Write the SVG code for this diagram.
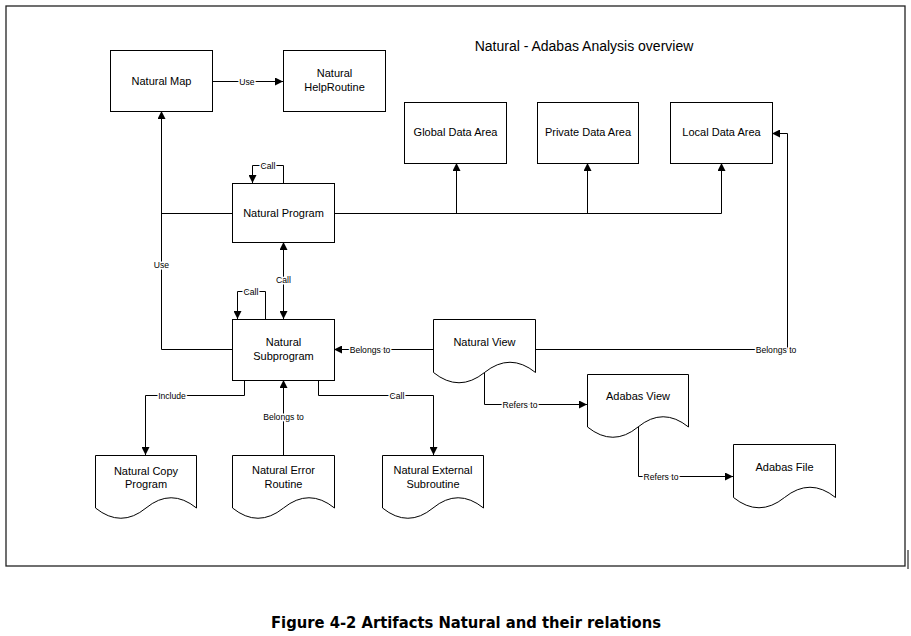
<svg xmlns="http://www.w3.org/2000/svg" width="911" height="636" viewBox="0 0 911 636">
<style>
.box{fill:#fff;stroke:#000;stroke-width:1}
.doc{fill:#fff;stroke:#000;stroke-width:1}
.t{font-family:"Liberation Sans",Arial,sans-serif;font-size:11px;fill:#000;text-anchor:middle}
.c{fill:none;stroke:#000;stroke-width:1}
.lbl{font-family:"Liberation Sans",Arial,sans-serif;font-size:8.6px;fill:#000;text-anchor:middle;stroke:#fff;stroke-width:3px;paint-order:stroke;stroke-linejoin:round}
</style>
<defs>
<marker id="ah" viewBox="0 0 8 8" refX="8" refY="4" markerWidth="8" markerHeight="8" markerUnits="userSpaceOnUse" orient="auto-start-reverse">
<path d="M0,0 L8,4 L0,8 z" fill="#000"/>
</marker>
</defs>
<rect width="911" height="636" fill="#fff"/>
<rect x="6" y="6" width="899" height="560" fill="#fff" stroke="#222" stroke-width="1.3"/>
<line x1="908" y1="550" x2="908" y2="569" stroke="#000" stroke-width="1"/>
<text x="584" y="51" style="font-family:'Liberation Sans',Arial,sans-serif;font-size:14px;text-anchor:middle">Natural - Adabas Analysis overview</text>

<g id="connectors">
<path class="c" d="M212.5,81.5 H283" marker-end="url(#ah)"/>
<path class="c" d="M283.5,183 V165.5 H252.5 V183" marker-end="url(#ah)"/>
<path class="c" d="M232,213.5 H161.5"/>
<path class="c" d="M232,349.5 H161.5 V111" marker-end="url(#ah)"/>
<path class="c" d="M334,213.5 H721.5 V163" marker-end="url(#ah)"/>
<path class="c" d="M456.5,213.5 V163" marker-end="url(#ah)"/>
<path class="c" d="M587.5,213.5 V163" marker-end="url(#ah)"/>
<path class="c" d="M283.5,242 V319" marker-start="url(#ah)" marker-end="url(#ah)"/>
<path class="c" d="M265.5,319 V291.5 H237.5 V319" marker-end="url(#ah)"/>
<path class="c" d="M433,349.5 H334" marker-end="url(#ah)"/>
<path class="c" d="M535,349.5 H787.5 V133.5 H772" marker-end="url(#ah)"/>
<path class="c" d="M244.5,380 V395.5 H145.5 V455" marker-end="url(#ah)"/>
<path class="c" d="M283.5,455 V380" marker-end="url(#ah)"/>
<path class="c" d="M318.5,380 V395.5 H433.5 V455" marker-end="url(#ah)"/>
<path class="c" d="M484.5,372 V404.5 H587" marker-end="url(#ah)"/>
<path class="c" d="M638.5,427 V476.5 H733" marker-end="url(#ah)"/>
<text class="lbl" x="247" y="84.5">Use</text>
<text class="lbl" x="268" y="168.5">Call</text>
<text class="lbl" x="161.5" y="268">Use</text>
<text class="lbl" x="283.5" y="283">Call</text>
<text class="lbl" x="251" y="294.5">Call</text>
<text class="lbl" x="370" y="352.5">Belongs to</text>
<text class="lbl" x="776" y="352.5">Belongs to</text>
<text class="lbl" x="172" y="398.5">Include</text>
<text class="lbl" x="283.5" y="420">Belongs to</text>
<text class="lbl" x="397" y="398.5">Call</text>
<text class="lbl" x="520" y="407.5">Refers to</text>
<text class="lbl" x="661" y="479.5">Refers to</text>
</g>

<g id="natural-map">
<rect class="box" x="110.5" y="50.5" width="102" height="61"/>
<text class="t" x="161.5" y="85">Natural Map</text>
</g>
<g id="natural-helproutine">
<rect class="box" x="283.5" y="50.5" width="102" height="61"/>
<text class="t" x="334.5" y="77">Natural</text>
<text class="t" x="334.5" y="91">HelpRoutine</text>
</g>
<g id="global-data-area">
<rect class="box" x="404.5" y="102.5" width="102" height="61"/>
<text class="t" x="455.5" y="136">Global Data Area</text>
</g>
<g id="private-data-area">
<rect class="box" x="537.5" y="102.5" width="101" height="61"/>
<text class="t" x="588" y="136">Private Data Area</text>
</g>
<g id="local-data-area">
<rect class="box" x="670.5" y="102.5" width="102" height="61"/>
<text class="t" x="721.5" y="136">Local Data Area</text>
</g>
<g id="natural-program">
<rect class="box" x="232.5" y="183.5" width="102" height="59"/>
<text class="t" x="283.5" y="217">Natural Program</text>
</g>
<g id="natural-subprogram">
<rect class="box" x="232.5" y="319.5" width="102" height="61"/>
<text class="t" x="283.5" y="346">Natural</text>
<text class="t" x="283.5" y="360">Subprogram</text>
</g>
<g id="natural-view">
<path class="doc" d="M433.5,319.5 H535.5 V372.5 Q510,352 484.5,372.5 T433.5,372.5 Z"/>
<text class="t" x="484.5" y="346">Natural View</text>
</g>
<g id="adabas-view">
<path class="doc" d="M587.5,374.5 H688.5 V427 Q663,406.5 638,427 T587.5,427 Z"/>
<text class="t" x="638" y="400">Adabas View</text>
</g>
<g id="adabas-file">
<path class="doc" d="M733.5,444.5 H835.5 V497.5 Q810,477 784.5,497.5 T733.5,497.5 Z"/>
<text class="t" x="784.5" y="471">Adabas File</text>
</g>
<g id="natural-copy-program">
<path class="doc" d="M95.5,455.5 H196.5 V508 Q171,487.5 146,508 T95.5,508 Z"/>
<text class="t" x="146" y="475">Natural Copy</text>
<text class="t" x="146" y="488">Program</text>
</g>
<g id="natural-error-routine">
<path class="doc" d="M232.5,455.5 H334.5 V508 Q309,487.5 283.5,508 T232.5,508 Z"/>
<text class="t" x="283.5" y="474">Natural Error</text>
<text class="t" x="283.5" y="488">Routine</text>
</g>
<g id="natural-external-subroutine">
<path class="doc" d="M382.5,455.5 H483.5 V508 Q458,487.5 433,508 T382.5,508 Z"/>
<text class="t" x="433" y="474">Natural External</text>
<text class="t" x="433" y="488">Subroutine</text>
</g>

<text x="466" y="628" style="font-family:'DejaVu Sans Condensed','DejaVu Sans',sans-serif;font-size:15px;font-weight:bold;text-anchor:middle" textLength="390" lengthAdjust="spacingAndGlyphs">Figure 4-2 Artifacts Natural and their relations</text>
</svg>
